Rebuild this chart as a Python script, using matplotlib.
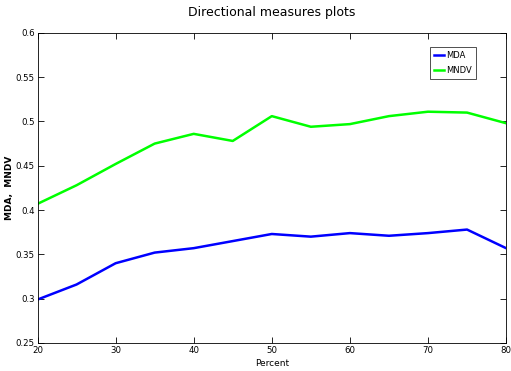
import matplotlib
matplotlib.use("Agg")
import matplotlib.pyplot as plt

# values
percent = [20, 25, 30, 35, 40, 45, 50, 55, 60, 65, 70, 75, 80]
mda = [0.299, 0.316, 0.340, 0.352, 0.357, 0.365, 0.373, 0.370, 0.374, 0.371, 0.374, 0.378, 0.357]
mndv = [0.407, 0.428, 0.452, 0.475, 0.486, 0.478, 0.506, 0.494, 0.497, 0.506, 0.511, 0.510, 0.498]

plt.rcParams['font.family'] = ['DejaVu Sans']

fig = plt.figure(figsize=(5.11, 3.71), dpi=100)
ax = fig.add_axes([0.0734, 0.0755, 0.917, 0.836])

ax.plot(percent, mda, color='#0000ff', lw=1.8, label='MDA')
ax.plot(percent, mndv, color='#00ff00', lw=1.8, label='MNDV')

ax.set_xlim(20, 80)
ax.set_ylim(0.25, 0.6)
ax.set_xticks([20, 30, 40, 50, 60, 70, 80])
ax.set_yticks([0.25, 0.3, 0.35, 0.4, 0.45, 0.5, 0.55, 0.6])
ax.set_yticklabels(['0.25', '0.3', '0.35', '0.4', '0.45', '0.5', '0.55', '0.6'])
ax.tick_params(direction='in', length=4, width=0.6, labelsize=6.2, top=True, right=True, pad=2)
for s in ax.spines.values():
    s.set_linewidth(0.6)

ax.set_title('Directional measures plots', fontsize=9, pad=12)
ax.set_xlabel('Percent', fontsize=6.5, labelpad=3)
ax.set_ylabel('MDA,  MNDV', fontsize=6.5, fontweight='bold')
ax.yaxis.set_label_coords(-0.05, 0.5)

leg = ax.legend(loc='upper right', bbox_to_anchor=(0.935, 0.955), fontsize=6, frameon=True,
                fancybox=False, edgecolor='black', handlelength=1.2, handletextpad=0.2,
                borderpad=0.5, labelspacing=0.7, borderaxespad=0)
leg.get_frame().set_linewidth(0.6)

fig.savefig('out.png', dpi=100)
